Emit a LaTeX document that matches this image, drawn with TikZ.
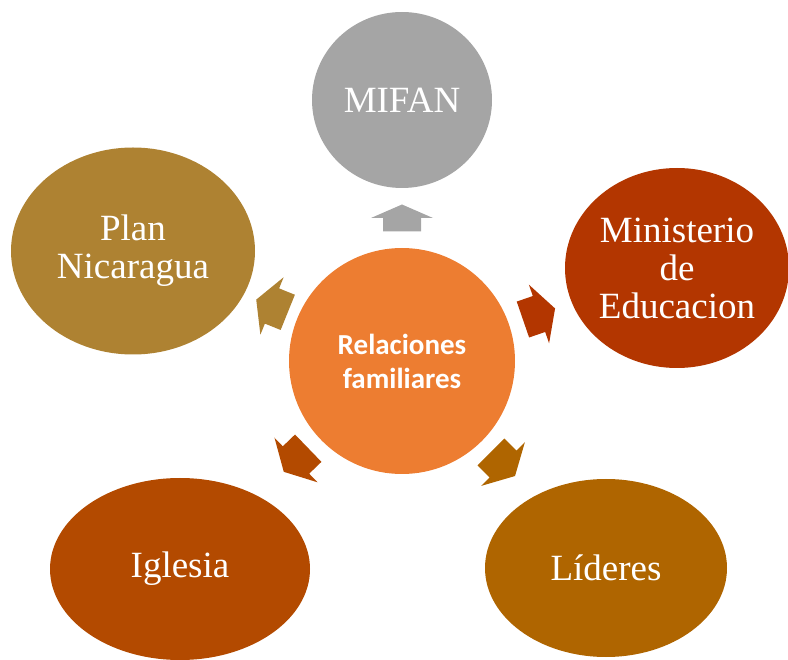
\documentclass[tikz,border=0pt]{standalone}
\usepackage{fontspec}
\setmainfont{Liberation Serif}
\newfontfamily\cfont{Carlito}
\usetikzlibrary{shapes.geometric}
\definecolor{cgray}{HTML}{A5A5A5}
\definecolor{cplan}{HTML}{AE8232}
\definecolor{cmin}{HTML}{B33600}
\definecolor{cigl}{HTML}{B34A00}
\definecolor{clid}{HTML}{AF6500}
\definecolor{ccen}{HTML}{ED7D31}
\tikzset{
  outer/.style={ellipse, inner sep=0pt, text=white, align=center,
    font=\fontsize{37}{38}\selectfont},
  center/.style={circle, inner sep=0pt, minimum size=226pt, fill=ccen, text=white,
    align=center, font=\cfont\bfseries\fontsize{29}{34}\selectfont},
  pics/barrow/.style 2 args={code={
    \fill[#2] (-#1/2,-19) -- (0,-19) -- (0,-31) -- (#1/2,0) -- (0,31) -- (0,19) -- (-#1/2,19) -- cycle;
  }}
}
\begin{document}
\begin{tikzpicture}[x=1pt,y=-1pt]
\useasboundingbox (0,0) rectangle (788,660);
\node[center] (c) at (402,361) {Relaciones\\familiares};
\node[outer, fill=cgray, minimum width=180pt, minimum height=176pt] (mifan) at (402,100) {MIFAN};
\node[outer, fill=cplan, minimum width=244pt, minimum height=207pt] (plan) at (133,251) {Plan\\Nicaragua};
\node[outer, fill=cmin, minimum width=224pt, minimum height=200pt] (min) at (677,268) {Ministerio\\de\\Educacion};
\node[outer, fill=cigl, minimum width=260pt, minimum height=182pt] (igl) at (180,569) {Iglesia};
\node[outer, fill=clid, minimum width=242pt, minimum height=178pt] (lid) at (606,568) {Líderes};
\pic[shift={(402,218)}, rotate=90] {barrow={27}{cgray}};
\pic[shift={(539,314)}, rotate=19] {barrow={34}{cmin}};
\pic[shift={(272,306)}, rotate=158] {barrow={34}{cplan}};
\pic[shift={(296,460)}, rotate=224] {barrow={34}{cigl}};
\pic[shift={(503,464)}, rotate=-45] {barrow={34}{clid}};
\end{tikzpicture}
\end{document}
